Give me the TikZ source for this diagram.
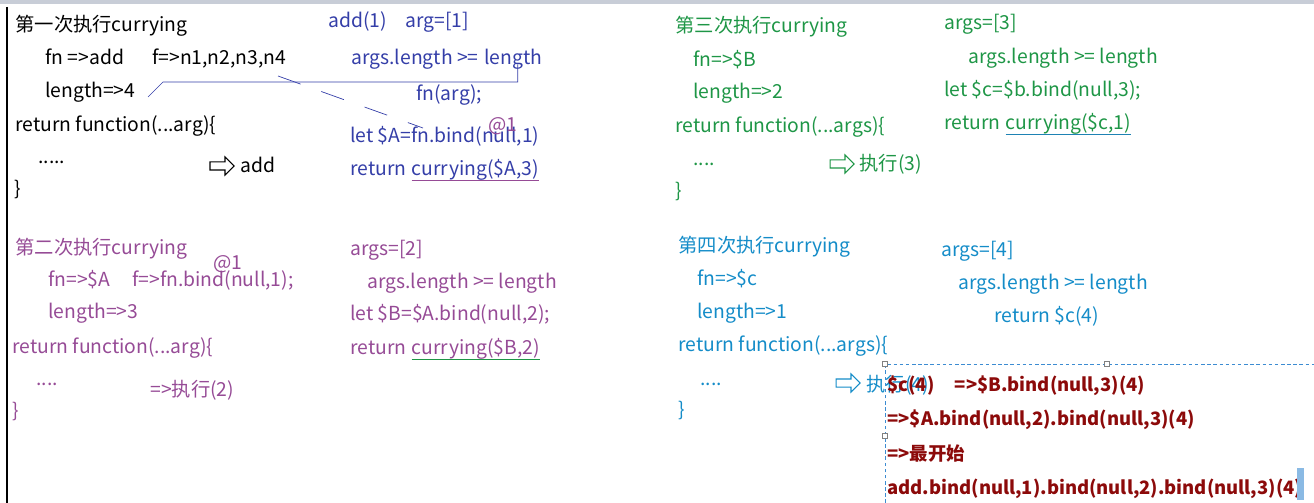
\documentclass[tikz,border=0pt]{standalone}
\usepackage{fontspec}
\setmainfont{Noto Sans CJK SC}
\usetikzlibrary{positioning,shapes.arrows}
\definecolor{blaa}{RGB}{52,62,168}
\definecolor{lilla}{RGB}{150,75,150}
\definecolor{gronn}{RGB}{30,150,70}
\definecolor{lyseblaa}{RGB}{20,140,200}
\definecolor{strek}{RGB}{30,130,180}
\definecolor{morkrod}{RGB}{140,10,10}
\definecolor{ramme}{RGB}{60,140,210}
\definecolor{topp}{RGB}{200,205,215}
\tikzset{
  kode/.style={anchor=west, inner sep=0pt, text height=1.1em, text depth=0.26em,
    font=\fontsize{11}{13}\selectfont},
  fet/.style={kode, text=morkrod, font=\fontsize{10.5}{12}\selectfont\bfseries},
  pil/.style={single arrow, line width=0.6pt, fill=white, minimum height=0.48cm,
    inner sep=0.07cm, single arrow head extend=0.1cm},
  understrek/.style={line width=0.6pt},
  handtak/.style={draw=gray, fill=white, line width=0.3pt, inner sep=0pt, minimum size=0.1cm}
}
\begin{document}
\begin{tikzpicture}[x=0.02cm, y=-0.02cm]
\useasboundingbox (0,0) rectangle (1314,503);
%% bakgrunn
\fill[topp] (0,0) rectangle (1314,4);
\draw[line width=0.7pt] (7,7) -- (7,503);
%%
%% første kall
\node[kode] (t1) at (15,24) {第一次执行currying};
\node[kode] (fn1) at (45,57) {fn =>add};
\node[kode] (f1) at (152,57) {f=>n1,n2,n3,n4};
\node[kode] (len1) at (45,90) {length=>4};
\node[kode] (ret1) at (15,124) {return function(...arg)\{};
\node[kode] (dot1) at (38,156) {.....};
\node[pil, draw=black] (pil1) at (220,166) {};
\node[kode] (add1) at (240,165) {add};
\node[kode] (end1) at (14,188) {\}};
\node[kode, text=blaa] (kall1) at (328,20) {add(1)};
\node[kode, text=blaa] (arg1) at (405,20) {arg=[1]};
\node[kode, text=blaa] (sjekk1) at (351,57) {args.length >=};
\node[kode, text=blaa, right=0.3em of sjekk1] (lengde1) {length};
\node[kode, text=blaa] (fnarg1) at (416,93) {fn(arg);};
\node[kode, text=blaa] (bind1) at (350,135) {let \$A=fn.bind(null,1)};
\node[kode, text=blaa] (retA) at (350,168) {return};
\node[kode, text=blaa, right=0.27em of retA] (curA) {currying(\$A,3)};
\node[kode, text=lilla] (at1) at (488,124) {@1};
\draw[understrek, lilla] (curA.south west) -- (curA.south east);
%% strek fra length til length
\coordinate (knekk1) at (148,97);
\draw[blaa, line width=0.4pt] (knekk1) -- ++(15,-15) -| ([xshift=2.5pt]lengde1.base);
\coordinate (s1) at (278,76);
\coordinate (s2) at (423,128);
\draw[blaa, line width=0.4pt, dash pattern=on 0.48cm off 0.44cm] (s1) -- (s2);
%%
%% andre kall
\node[kode, text=lilla] (t2) at (15,247) {第二次执行currying};
\node[kode, text=lilla] (at2) at (213,262) {@1};
\node[kode, text=lilla] (fn2) at (48,279) {fn=>\$A};
\node[kode, text=lilla] (f2) at (132,279) {f=>fn.bind(null,1);};
\node[kode, text=lilla] (len2) at (48,311) {length=>3};
\node[kode, text=lilla] (ret2) at (12,346) {return function(...arg)\{};
\node[kode, text=lilla] (dot2) at (36,378) {....};
\node[kode, text=lilla] (kjor2) at (150,389) {=>执行(2)};
\node[kode, text=lilla] (end2) at (12,410) {\}};
\node[kode, text=lilla] (arg2) at (350,248) {args=[2]};
\node[kode, text=lilla] (sjekk2) at (367,281) {args.length >= length};
\node[kode, text=lilla] (bind2) at (350,313) {let \$B=\$A.bind(null,2);};
\node[kode, text=lilla] (retB) at (350,347) {return};
\node[kode, text=lilla, right=0.27em of retB] (curB) {currying(\$B,2)};
\draw[understrek, gronn] (curB.south west) -- (curB.south east);
%%
%% tredje kall
\node[kode, text=gronn] (t3) at (675,25) {第三次执行currying};
\node[kode, text=gronn] (fn3) at (693,59) {fn=>\$B};
\node[kode, text=gronn] (len3) at (693,91) {length=>2};
\node[kode, text=gronn] (ret3) at (675,125) {return function(...args)\{};
\node[kode, text=gronn] (dot3) at (693,158) {....};
\node[pil, draw=gronn] (pil3) at (840,164) {};
\node[kode, text=gronn] (kjor3) at (859,163) {执行(3)};
\node[kode, text=gronn] (end3) at (675,190) {\}};
\node[kode, text=gronn] (arg3) at (944,22) {args=[3]};
\node[kode, text=gronn] (sjekk3) at (968,56) {args.length >= length};
\node[kode, text=gronn] (bind3) at (944,89) {let \$c=\$b.bind(null,3);};
\node[kode, text=gronn] (retC) at (944,122) {return};
\node[kode, text=gronn, right=0.27em of retC] (curC) {currying(\$c,1)};
\draw[understrek, strek] (curC.south west) -- (curC.south east);
%%
%% fjerde kall
\node[kode, text=lyseblaa] (t4) at (678,245) {第四次执行currying};
\node[kode, text=lyseblaa] (fn4) at (697,278) {fn=>\$c};
\node[kode, text=lyseblaa] (len4) at (697,311) {length=>1};
\node[kode, text=lyseblaa] (ret4) at (678,344) {return function(...args)\{};
\node[kode, text=lyseblaa] (dot4) at (700,378) {....};
\node[pil, draw=lyseblaa] (pil4) at (846,383) {};
\node[kode, text=lyseblaa] (kjor4) at (866,384) {执行(4)};
\node[kode, text=lyseblaa] (end4) at (678,409) {\}};
\node[kode, text=lyseblaa] (arg4) at (941,249) {args=[4]};
\node[kode, text=lyseblaa] (sjekk4) at (958,282) {args.length >= length};
\node[kode, text=lyseblaa] (ret4b) at (994,315) {return \$c(4)};
%%
%% tekstboks
\draw[ramme, line width=0.4pt, dash pattern=on 2pt off 1.5pt] (885,503) -- (885,364) -- (1314,364);
\node[handtak] (h1) at (885,364) {};
\node[handtak] (h2) at (1107,364) {};
\node[handtak] (h3) at (885,436) {};
\node[fet] (r1) at (887,384) {\$c(4)\hspace{1.1em}=>\$B.bind(null,3)(4)};
\node[fet] (r2) at (887,418) {=>\$A.bind(null,2).bind(null,3)(4)};
\node[fet] (r3) at (887,453) {=>最开始};
\node[fet] (r4) at (887,487) {add.bind(null,1).bind(null,2).bind(null,3)(4)};
\fill[ramme!60] (1297,468) rectangle (1304,500);
\end{tikzpicture}
\end{document}
